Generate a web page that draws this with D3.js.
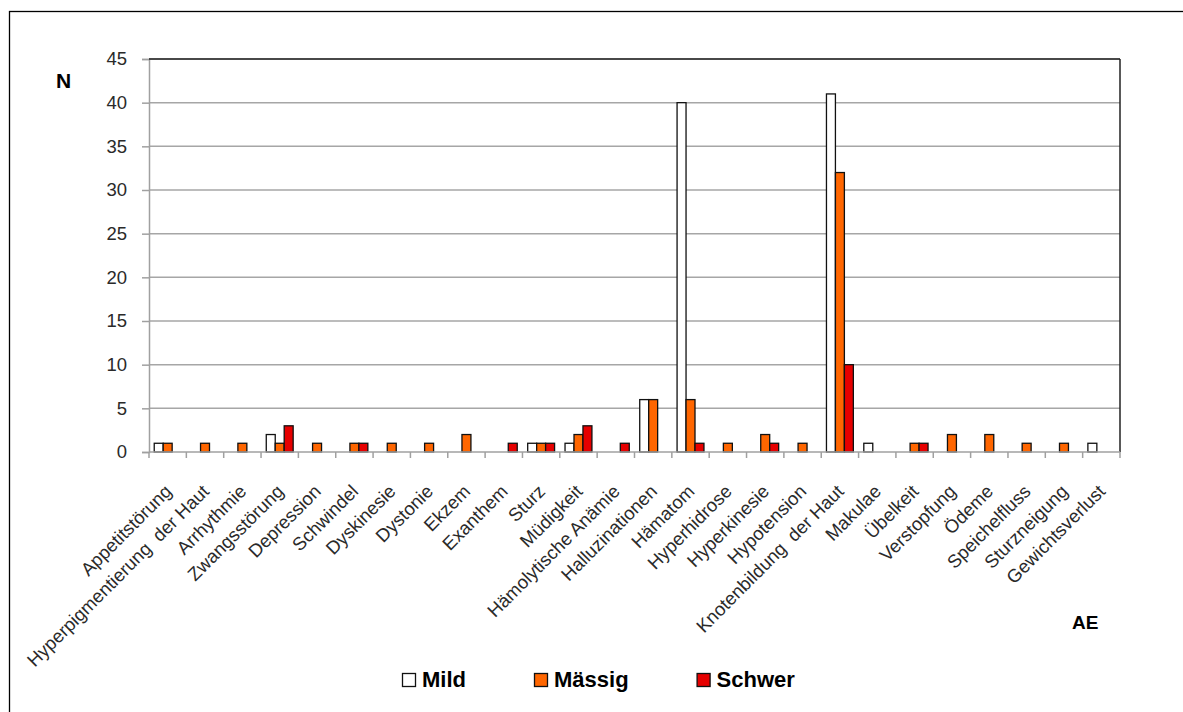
<!DOCTYPE html>
<html>
<head>
<meta charset="utf-8">
<script src="https://cdnjs.cloudflare.com/ajax/libs/d3/7.8.5/d3.min.js"></script>
<style>
  html, body { margin: 0; padding: 0; background: #fff; }
  svg { display: block; }
</style>
</head>
<body>
<svg id="chart" width="1183" height="712"></svg>
<script>
const categories = [
  "Appetitstörung", "Hyperpigmentierung  der Haut", "Arrhythmie", "Zwangsstörung",
  "Depression", "Schwindel", "Dyskinesie", "Dystonie", "Ekzem", "Exanthem", "Sturz",
  "Müdigkeit", "Hämolytische Anämie", "Halluzinationen", "Hämatom", "Hyperhidrose",
  "Hyperkinesie", "Hypotension", "Knotenbildung  der Haut", "Makulae", "Übelkeit",
  "Verstopfung", "Ödeme", "Speichelfluss", "Sturzneigung", "Gewichtsverlust"
];
const mild    = [1,0,0,2,0,0,0,0,0,0,1,1,0,6,40,0,0,0,41,1,0,0,0,0,0,1];
const maessig = [1,1,1,1,1,1,1,1,2,0,1,2,0,6,6,1,2,1,32,0,1,2,2,1,1,0];
const schwer  = [0,0,0,3,0,1,0,0,0,1,1,3,1,0,1,0,1,0,10,0,1,0,0,0,0,0];
const seriesNames = ["Mild", "Mässig", "Schwer"];
const seriesColors = ["#ffffff", "#ff6600", "#e60000"];
const yTicks = [0, 5, 10, 15, 20, 25, 30, 35, 40, 45];

(function () {
const svg = d3.select("#chart");
const font = "'Liberation Sans', Arial, sans-serif";

// outer frame
svg.append("rect").attr("x", 9.5).attr("y", 11.5).attr("width", 1300).attr("height", 900)
  .attr("fill", "none").attr("stroke", "#000").attr("stroke-width", 1.3);

const pLeft = 149, pRight = 1120, pTop = 59, pBottom = 452;
const x = d3.scaleBand().domain(categories).range([pLeft, pRight]).padding(0);
const x1 = d3.scaleBand().domain(seriesNames)
  .range([x.bandwidth() * 0.14, x.bandwidth() * 0.86]).padding(0);
const y = d3.scaleLinear().domain([0, 45]).range([pBottom, pTop]);

// gridlines
svg.append("g").selectAll("line").data(yTicks.filter(d => d > 0)).join("line")
  .attr("x1", pLeft).attr("x2", pRight)
  .attr("y1", d => y(d)).attr("y2", d => y(d))
  .attr("stroke", "#a6a6a6").attr("stroke-width", 1.5);

// y axis
const yAxis = d3.axisLeft(y).tickValues(yTicks).tickSize(7).tickPadding(15).tickFormat(d3.format("d"));
const gy = svg.append("g").attr("transform", `translate(${pLeft},0)`).call(yAxis);
gy.select(".domain").attr("stroke", "#a0a0a0").attr("stroke-width", 1.5);
gy.selectAll(".tick line").attr("stroke", "#a0a0a0").attr("stroke-width", 1.5);
gy.selectAll(".tick text").attr("font-family", font).attr("font-size", 18.5).attr("fill", "#2a2a2a");

// x axis ticks at category boundaries
const boundaries = categories.map(c => x(c)).concat([x(categories[categories.length - 1]) + x.bandwidth()]);
svg.append("g").selectAll("line").data(boundaries).join("line")
  .attr("x1", d => d).attr("x2", d => d).attr("y1", pBottom).attr("y2", pBottom + 6)
  .attr("stroke", "#a0a0a0").attr("stroke-width", 1.5);

// bars
const seriesData = [mild, maessig, schwer];
const rows = [];
categories.forEach((c, i) => {
  seriesNames.forEach((s, j) => {
    rows.push({ cat: c, series: s, value: seriesData[j][i], color: seriesColors[j] });
  });
});
svg.append("g").selectAll("rect").data(rows.filter(d => d.value > 0)).join("rect")
  .attr("x", d => x(d.cat) + x1(d.series))
  .attr("width", x1.bandwidth())
  .attr("y", d => y(d.value))
  .attr("height", d => y(0) - y(d.value))
  .attr("fill", d => d.color)
  .attr("stroke", "#111").attr("stroke-width", 1.3);

// plot frame: top and right dark
svg.append("line").attr("x1", pLeft).attr("x2", pRight).attr("y1", pTop).attr("y2", pTop)
  .attr("stroke", "#222").attr("stroke-width", 1.5);
svg.append("line").attr("x1", pRight).attr("x2", pRight).attr("y1", pTop).attr("y2", pBottom)
  .attr("stroke", "#222").attr("stroke-width", 1.5);
// x axis domain line
svg.append("line").attr("x1", pLeft).attr("x2", pRight).attr("y1", pBottom).attr("y2", pBottom)
  .attr("stroke", "#a0a0a0").attr("stroke-width", 1.5);

// x labels rotated
svg.append("g").selectAll("text").data(categories).join("text")
  .attr("transform", d => `translate(${x(d) + x.bandwidth() / 2 + 0.5},${488}) rotate(-45)`)
  .attr("text-anchor", "end").attr("dy", "0.35em")
  .attr("font-family", font).attr("font-size", 18.5).attr("fill", "#2a2a2a")
  .style("white-space", "pre")
  .text(d => d);

// axis titles
svg.append("text").attr("x", 63.5).attr("y", 88).attr("text-anchor", "middle")
  .attr("font-family", font).attr("font-size", 21).attr("font-weight", "bold").attr("fill", "#000")
  .text("N");
svg.append("text").attr("x", 1072).attr("y", 629)
  .attr("font-family", font).attr("font-size", 19).attr("font-weight", "bold").attr("fill", "#000")
  .text("AE");

// legend
const legend = svg.append("g");
let lx = 402;
seriesNames.forEach((s, j) => {
  legend.append("rect").attr("x", lx + 0.5).attr("y", 673.5).attr("width", 13).attr("height", 13)
    .attr("fill", seriesColors[j]).attr("stroke", "#111").attr("stroke-width", 1.3);
  const t = legend.append("text").attr("x", lx + 20).attr("y", 687)
    .attr("font-family", font).attr("font-size", 22).attr("font-weight", "bold").attr("fill", "#000")
    .text(s);
  lx = lx + 20 + t.node().getComputedTextLength() + 68;
});
})();
</script>
</body>
</html>
